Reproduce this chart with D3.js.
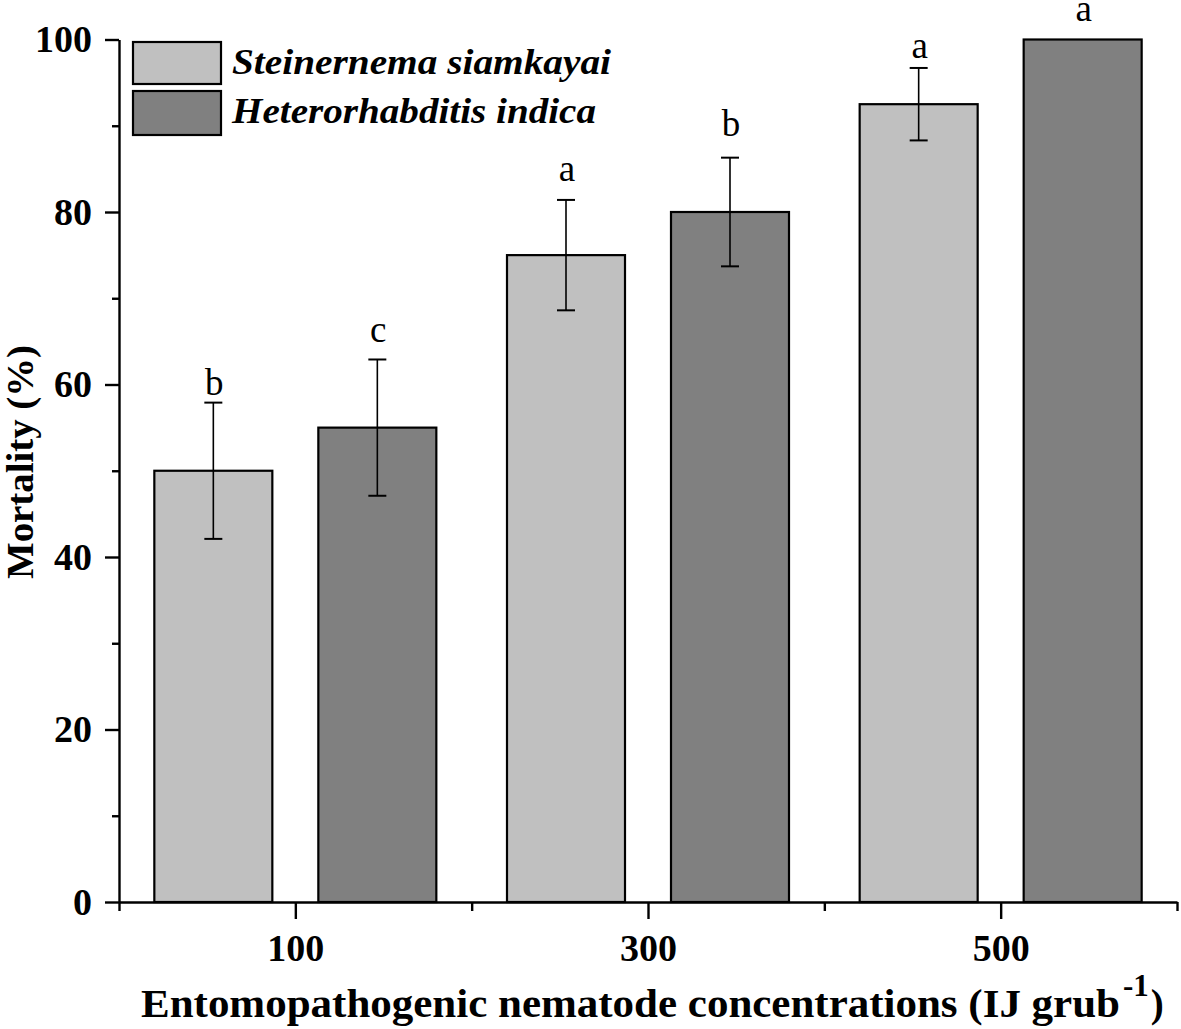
<!DOCTYPE html>
<html><head><meta charset="utf-8">
<script src="https://cdn.jsdelivr.net/npm/d3@7"></script>
<style>
body{margin:0;background:#fff}
svg{display:block}
text{font-family:"Liberation Serif","Times New Roman",serif}
</style>
</head><body><svg id="chart" width="1181" height="1029"></svg>
<script>
const categories = [100, 300, 500];
const seriesNames = ["Steinernema siamkayai", "Heterorhabditis indica"];
const steinernemaValues = [50, 75, 92.5];
const heterorhabditisValues = [55, 80, 100];
const steinernemaErrors = [7.9, 6.4, 4.2];
const heterorhabditisErrors = [7.9, 6.3, 0];
const steinernemaLetters = ["b", "a", "a"];
const heterorhabditisLetters = ["c", "b", "a"];
// height (in % mortality units) at which each significance letter sits
const steinernemaLetterAt = [58.8, 83.6, 97.8];
const heterorhabditisLetterAt = [64.9, 88.8, 102.2];
const yMajorTicks = [0, 20, 40, 60, 80, 100];
const yMinorTicks = [10, 30, 50, 70, 90];
const xMajorTicks = [100, 300, 500];
const xMinorTicks = [0, 200, 400, 600];
const xDomain = [0, 600];
const yDomain = [0, 100];

const svg = d3.select("#chart");
const x = d3.scaleLinear().domain(xDomain).range([119, 1177]);
const y = d3.scaleLinear().domain(yDomain).range([902, 39.5]);

const series = [
  {name: seriesNames[0], values: steinernemaValues, errors: steinernemaErrors, letters: steinernemaLetters, letterAt: steinernemaLetterAt, fill: "#c0c0c0", offset: -82, legW: 379},
  {name: seriesNames[1], values: heterorhabditisValues, errors: heterorhabditisErrors, letters: heterorhabditisLetters, letterAt: heterorhabditisLetterAt, fill: "#808080", offset: 82, legW: 364}
];
const barW = 118;

// bars
series.forEach(s => {
  const data = categories.map((c, i) => ({c, v: s.values[i], e: s.errors[i], l: s.letters[i], la: s.letterAt[i]}));
  const g = svg.append("g");
  g.selectAll("rect").data(data).join("rect")
    .attr("x", d => x(d.c) + s.offset - barW / 2)
    .attr("y", d => y(d.v))
    .attr("width", barW)
    .attr("height", d => y(0) - y(d.v))
    .attr("fill", s.fill)
    .attr("stroke", "#000")
    .attr("stroke-width", 2.2);
  const eb = g.selectAll("g.eb").data(data.filter(d => d.e > 0)).join("g").attr("class", "eb");
  eb.append("line")
    .attr("x1", d => x(d.c) + s.offset).attr("x2", d => x(d.c) + s.offset)
    .attr("y1", d => y(d.v + d.e)).attr("y2", d => y(d.v - d.e))
    .attr("stroke", "#000").attr("stroke-width", 1.6);
  [1, -1].forEach(sign => {
    eb.append("line")
      .attr("x1", d => x(d.c) + s.offset - 9).attr("x2", d => x(d.c) + s.offset + 9)
      .attr("y1", d => y(d.v + sign * d.e)).attr("y2", d => y(d.v + sign * d.e))
      .attr("stroke", "#000").attr("stroke-width", 2);
  });
  g.selectAll("text.let").data(data).join("text").attr("class", "let")
    .attr("x", d => x(d.c) + s.offset + 1)
    .attr("y", d => y(d.la))
    .attr("text-anchor", "middle")
    .attr("font-size", 37)
    .text(d => d.l);
});

// y axis
const yAxis = svg.append("g").attr("transform", "translate(119,0)")
  .call(d3.axisLeft(y).tickValues(yMajorTicks).tickSize(14).tickSizeOuter(0).tickPadding(13).tickFormat(d3.format("d")));
yAxis.select(".domain").attr("stroke-width", 2.4);
yAxis.selectAll(".tick line").attr("stroke-width", 2.4);
yAxis.selectAll(".tick text").attr("font-size", 38).attr("font-weight", "bold").attr("fill", "#000");
svg.append("g").attr("transform", "translate(119,0)")
  .call(d3.axisLeft(y).tickValues(yMinorTicks).tickSize(7).tickFormat(""))
  .call(g => g.select(".domain").remove())
  .selectAll(".tick line").attr("stroke-width", 2.4);

// x axis
const xAxis = svg.append("g").attr("transform", "translate(0,902)")
  .call(d3.axisBottom(x).tickValues(xMajorTicks).tickSize(17).tickSizeOuter(0).tickPadding(15).tickFormat(d3.format("d")));
xAxis.select(".domain").attr("stroke-width", 2.4);
xAxis.selectAll(".tick line").attr("stroke-width", 2.4);
xAxis.selectAll(".tick text").attr("font-size", 38).attr("font-weight", "bold").attr("fill", "#000");
svg.append("g").attr("transform", "translate(0,902)")
  .call(d3.axisBottom(x).tickValues(xMinorTicks).tickSize(9).tickFormat(""))
  .call(g => g.select(".domain").remove())
  .selectAll(".tick line").attr("stroke-width", 2.4);

// axis titles
svg.append("text")
  .attr("transform", "translate(33,462) rotate(-90)")
  .attr("text-anchor", "middle")
  .attr("font-size", 38).attr("font-weight", "bold")
  .attr("textLength", 234).attr("lengthAdjust", "spacingAndGlyphs")
  .text("Mortality (%)");

const xt = svg.append("text")
  .attr("x", 141).attr("y", 1017)
  .attr("font-size", 39).attr("font-weight", "bold");
xt.append("tspan").attr("textLength", 979).attr("lengthAdjust", "spacingAndGlyphs")
  .text("Entomopathogenic nematode concentrations (IJ grub");
xt.append("tspan").attr("dy", -21).attr("dx", 3).attr("font-size", 31).text("-1");
xt.append("tspan").attr("dy", 21).attr("dx", 2).text(")");

// legend
const legend = svg.append("g");
const legRows = [{y: 42, h: 42, base: 74}, {y: 91, h: 44, base: 123}];
series.forEach((s, i) => {
  legend.append("rect").attr("x", 133).attr("y", legRows[i].y).attr("width", 88).attr("height", legRows[i].h)
    .attr("fill", s.fill).attr("stroke", "#000").attr("stroke-width", 2.2);
  legend.append("text").attr("x", 232).attr("y", legRows[i].base)
    .attr("font-size", 35).attr("font-weight", "bold").attr("font-style", "italic")
    .attr("textLength", s.legW).attr("lengthAdjust", "spacingAndGlyphs")
    .text(s.name);
});
</script>
</body></html>
